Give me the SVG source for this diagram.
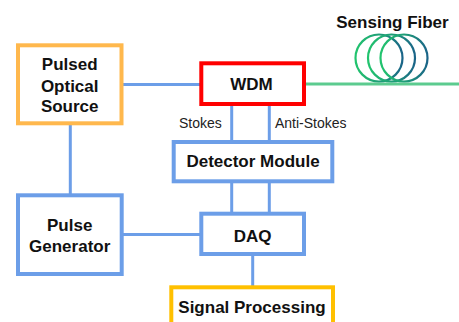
<svg xmlns="http://www.w3.org/2000/svg" width="459" height="322" viewBox="0 0 459 322">
<defs>
<linearGradient id="coil" x1="0" y1="0" x2="1" y2="0">
<stop offset="0" stop-color="#22C46E"/>
<stop offset="0.55" stop-color="#1E9A78"/>
<stop offset="1" stop-color="#1A6488"/>
</linearGradient>
</defs>
<style>
.box{fill:#ffffff;stroke-width:4}
.blue{stroke:#6C9EE8}
.lbl{font-family:"Liberation Sans",Arial,sans-serif;font-weight:bold;font-size:17px;fill:#111111;text-anchor:middle}
.small{font-family:"Liberation Sans",Arial,sans-serif;font-size:14px;fill:#222222}
.wire{stroke:#6C9EE8;stroke-width:3;fill:none}
.loop{fill:none;stroke:url(#coil);stroke-width:2.2}
</style>
<rect width="459" height="322" fill="#ffffff"/>
<g id="connectors">
<line class="wire" x1="121" y1="84.5" x2="201" y2="84.5"/>
<line class="wire" x1="70.3" y1="123" x2="70.3" y2="196"/>
<line class="wire" x1="231.7" y1="104" x2="231.7" y2="142"/>
<line class="wire" x1="269.3" y1="104" x2="269.3" y2="142"/>
<line class="wire" x1="231.7" y1="181" x2="231.7" y2="214"/>
<line class="wire" x1="269.3" y1="181" x2="269.3" y2="214"/>
<line class="wire" x1="121" y1="234.5" x2="201" y2="234.5"/>
<line class="wire" x1="252.7" y1="254" x2="252.7" y2="287"/>
<line x1="304" y1="84" x2="459" y2="84" stroke="#5CCB8F" stroke-width="3"/>
<text class="small" x="179" y="127.5">Stokes</text>
<text class="small" x="275" y="127.5">Anti-Stokes</text>
</g>
<g id="sensing-fiber">
<circle class="loop" cx="379" cy="58" r="23.5"/>
<circle class="loop" cx="391.5" cy="58" r="23.5"/>
<circle class="loop" cx="404" cy="58" r="23.5"/>
<text class="lbl" x="392.5" y="28">Sensing Fiber</text>
</g>
<g id="pulsed-optical-source">
<rect class="box" x="18" y="45.3" width="103.5" height="78" stroke="#FFB84D"/>
<text class="lbl" x="69.7" y="70">Pulsed</text>
<text class="lbl" x="69.7" y="91.5">Optical</text>
<text class="lbl" x="69.7" y="111.7">Source</text>
</g>
<g id="wdm">
<rect class="box" x="201.3" y="63.3" width="102.7" height="40.7" stroke="#FF0000"/>
<text class="lbl" x="251.5" y="90">WDM</text>
</g>
<g id="detector-module">
<rect class="box blue" x="173.7" y="142" width="158.6" height="39.3"/>
<text class="lbl" x="253" y="166.7">Detector Module</text>
</g>
<g id="pulse-generator">
<rect class="box blue" x="18" y="195.3" width="103.7" height="78.7"/>
<text class="lbl" x="69.7" y="231">Pulse</text>
<text class="lbl" x="69.7" y="251.7">Generator</text>
</g>
<g id="daq">
<rect class="box blue" x="201.3" y="213.7" width="102.7" height="40.3"/>
<text class="lbl" x="252.7" y="241.7">DAQ</text>
</g>
<g id="signal-processing">
<rect class="box" x="171.3" y="287.3" width="161.7" height="45" stroke="#FFC000"/>
<text class="lbl" x="252" y="313.3">Signal Processing</text>
</g>
</svg>
